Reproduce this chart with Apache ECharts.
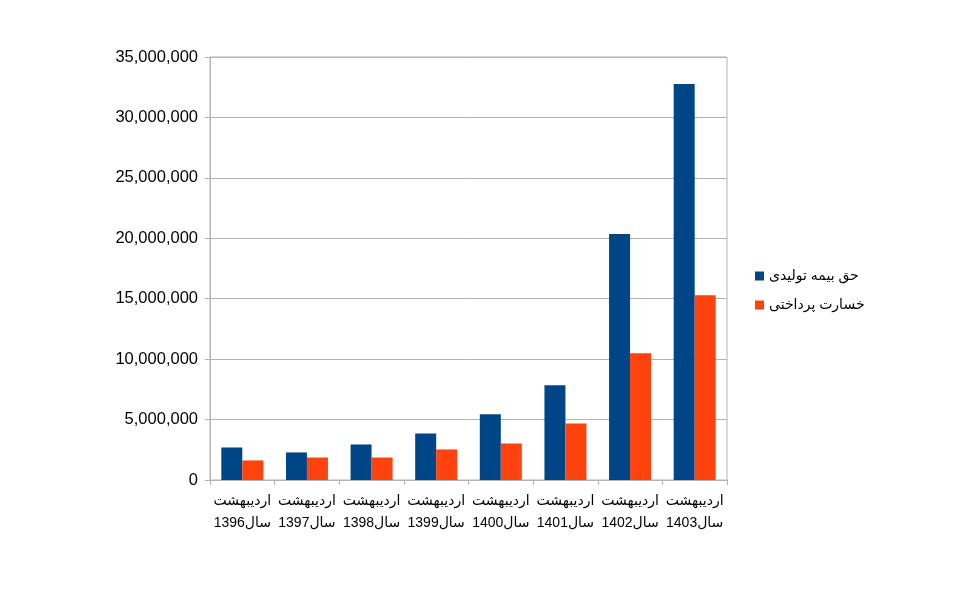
<!DOCTYPE html>
<html>
<head>
<meta charset="utf-8">
<script src="https://cdn.jsdelivr.net/npm/echarts@6/dist/echarts.min.js"></script>
<style>html,body{margin:0;padding:0;background:#fff}#c{width:960px;height:599px}</style>
</head>
<body>
<div id="c"></div>
<script>
const categories = ['اردیبهشت\nسال1396','اردیبهشت\nسال1397','اردیبهشت\nسال1398','اردیبهشت\nسال1399','اردیبهشت\nسال1400','اردیبهشت\nسال1401','اردیبهشت\nسال1402','اردیبهشت\nسال1403'];
const seriesNames = ['حق بیمه تولیدی','خسارت پرداختی'];
const premium = [2690000, 2280000, 2940000, 3850000, 5430000, 7830000, 20360000, 32760000];
const claims = [1620000, 1860000, 1860000, 2530000, 3020000, 4680000, 10480000, 15280000];
const yTicks = {min: 0, max: 35000000, interval: 5000000};

const chart = echarts.init(document.getElementById('c'));
const fam = '"Liberation Sans", Arial, "DejaVu Sans", sans-serif';
chart.setOption({
  animation: false,
  textStyle: {fontFamily: fam},
  grid: {left: 210, top: 57, width: 517, height: 423, show: true, borderColor: '#b3b3b3', borderWidth: 1},
  legend: {
    orient: 'vertical', left: 750, top: 264, itemGap: 15,
    icon: 'rect', itemWidth: 9, itemHeight: 9,
    textStyle: {fontSize: 14, color: '#000', fontFamily: fam},
    data: seriesNames
  },
  xAxis: {
    type: 'category', data: categories,
    axisLine: {lineStyle: {color: '#b3b3b3'}},
    axisTick: {show: true, length: 5, lineStyle: {color: '#b3b3b3'}},
    axisLabel: {color: '#000', fontSize: 14, lineHeight: 22, margin: 10, interval: 0, fontFamily: fam}
  },
  yAxis: {
    type: 'value', min: yTicks.min, max: yTicks.max, interval: yTicks.interval,
    axisLine: {show: true, lineStyle: {color: '#b3b3b3'}},
    axisTick: {show: true, length: 5, lineStyle: {color: '#b3b3b3'}},
    splitLine: {lineStyle: {color: '#b3b3b3'}},
    axisLabel: {color: '#000', fontSize: 16.5, margin: 12, fontFamily: fam,
      formatter: v => v.toString().replace(/\B(?=(\d{3})+(?!\d))/g, ',')}
  },
  series: [
    {name: seriesNames[0], type: 'bar', data: premium, barWidth: 21, barGap: '0%', itemStyle: {color: '#004586'}},
    {name: seriesNames[1], type: 'bar', data: claims, barWidth: 21, barGap: '0%', itemStyle: {color: '#ff420e'}}
  ]
});
</script>
</body>
</html>
